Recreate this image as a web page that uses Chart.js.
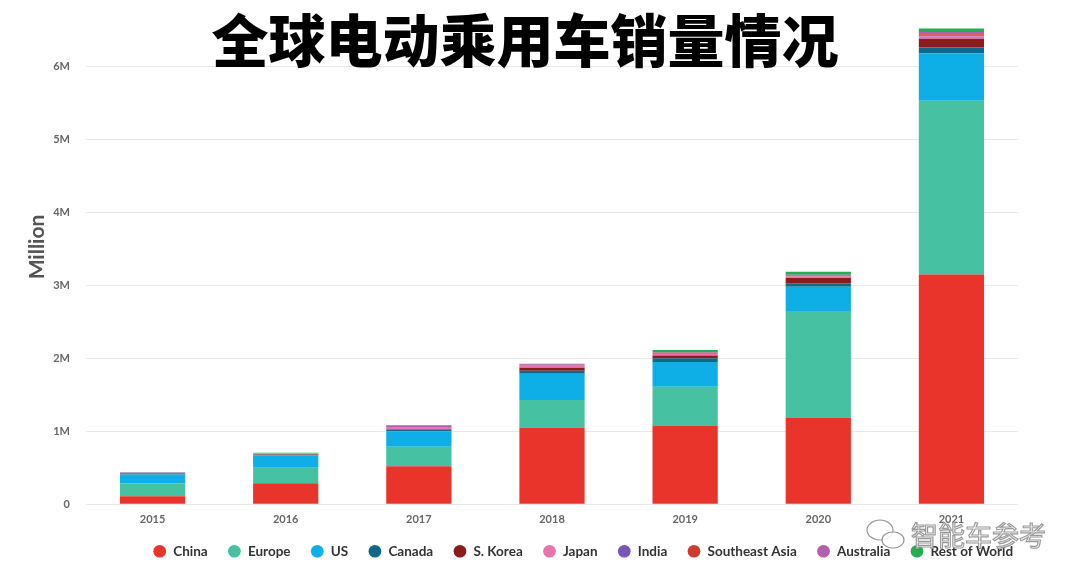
<!DOCTYPE html>
<html>
<head>
<meta charset="utf-8">
<script src="https://cdn.jsdelivr.net/npm/chart.js@4/dist/chart.umd.min.js"></script>
<style>
    html, body { margin: 0; padding: 0; background: #ffffff; }
    #wrap { width: 1080px; height: 583px; position: relative; }
</style>
</head>
<body>
<div id="wrap"><canvas id="salesChart"></canvas></div>
<script>
// ============================================
// DATA (million units)
// ============================================
const years = ['2015', '2016', '2017', '2018', '2019', '2020', '2021'];
const china = [0.11, 0.29, 0.52, 1.05, 1.08, 1.19, 3.15];
const europe = [0.18, 0.21, 0.27, 0.38, 0.53, 1.46, 2.38];
const us = [0.12, 0.17, 0.21, 0.36, 0.34, 0.33, 0.65];
const canada = [0.01, 0.01, 0.02, 0.04, 0.05, 0.05, 0.08];
const sKorea = [0.005, 0.005, 0.01, 0.04, 0.04, 0.07, 0.12];
const japan = [0.005, 0.01, 0.02, 0.03, 0.02, 0.02, 0.03];
const india = [0, 0, 0.005, 0.005, 0.005, 0.005, 0.01];
const southeastAsia = [0, 0, 0.005, 0.005, 0.01, 0.01, 0.02];
const australia = [0.005, 0.005, 0.02, 0.01, 0.01, 0.01, 0.03];
const restOfWorld = [0.005, 0.005, 0.005, 0.005, 0.03, 0.04, 0.05];
const yTicks = ['0', '1M', '2M', '3M', '4M', '5M', '6M'];

const TITLE = '全球电动乘用车销量情况';
const Y_TITLE = 'Million';
const WATERMARK = '智能车参考';

const series = [
    { label: 'China', data: china, color: '#e8342a' },
    { label: 'Europe', data: europe, color: '#46c2a2' },
    { label: 'US', data: us, color: '#0eaee6' },
    { label: 'Canada', data: canada, color: '#10698a' },
    { label: 'S. Korea', data: sKorea, color: '#8e1b1b' },
    { label: 'Japan', data: japan, color: '#ea72ad' },
    { label: 'India', data: india, color: '#7a55b1' },
    { label: 'Southeast Asia', data: southeastAsia, color: '#cf3b2e' },
    { label: 'Australia', data: australia, color: '#b25fae' },
    { label: 'Rest of World', data: restOfWorld, color: '#27ad51' }
];

// ============================================
// PLUGINS
// ============================================
const titlePlugin = {
    id: 'bigTitle',
    afterDraw(chart) {
        const ctx = chart.ctx;
        ctx.save();
        ctx.font = '900 57px "Noto Sans CJK SC"';
        ctx.fillStyle = '#000000';
        ctx.textAlign = 'center';
        ctx.textBaseline = 'middle';
        ctx.fillText(TITLE, 525, 40);

        // y axis title, sits a bit above the plot middle in the reference
        ctx.translate(37, 247);
        ctx.rotate(-Math.PI / 2);
        ctx.font = 'bold 21px Lato';
        ctx.fillStyle = '#555555';
        ctx.fillText(Y_TITLE, 0, 0);
        ctx.restore();
    }
};

// legend in the reference sits right of the plot centre and close under the axis
const legendShift = {
    id: 'legendShift',
    afterLayout(chart) {
        const lg = chart.legend;
        if (!lg) return;
        lg.left += 62;
        lg.right += 62;
        lg.top -= 11;
        lg.bottom -= 11;
    }
};

const watermarkPlugin = {
    id: 'watermark',
    afterDraw(chart) {
        const ctx = chart.ctx;
        ctx.save();
        ctx.font = '400 27px "Noto Sans CJK SC"';
        ctx.textAlign = 'left';
        ctx.textBaseline = 'middle';
        ctx.lineWidth = 1.2;
        ctx.strokeStyle = '#9a9a9a';
        ctx.fillStyle = 'rgba(255,255,255,0.85)';
        ctx.fillText(WATERMARK, 911, 536);
        ctx.strokeText(WATERMARK, 911, 536);
        // chat bubble icon
        ctx.beginPath();
        ctx.ellipse(880, 530, 13, 10, 0, 0, Math.PI * 2);
        ctx.stroke();
        ctx.beginPath();
        ctx.ellipse(893, 540, 11, 8, 0, 0, Math.PI * 2);
        ctx.fill();
        ctx.stroke();
        ctx.restore();
    }
};

// ============================================
// CHART
// ============================================
function createSalesChart() {
    const ctx = document.getElementById('salesChart');
    if (!ctx) return;

    new Chart(ctx, {
        type: 'bar',
        data: {
            labels: years,
            datasets: series.map(s => ({
                label: s.label,
                data: s.data,
                backgroundColor: s.color,
                borderWidth: 0,
                barPercentage: 0.49,
                categoryPercentage: 1
            }))
        },
        options: {
            responsive: true,
            maintainAspectRatio: false,
            animation: false,
            layout: {
                padding: { left: 24, right: 62, top: 20, bottom: 4 }
            },
            plugins: {
                title: { display: false },
                tooltip: { enabled: false },
                legend: {
                    position: 'bottom',
                    labels: {
                        usePointStyle: true,
                        pointStyle: 'circle',
                        boxWidth: 14,
                        boxHeight: 9,
                        padding: 20,
                        color: '#333333',
                        font: { family: 'Lato', size: 13.5, weight: 'bold' }
                    }
                }
            },
            scales: {
                x: {
                    stacked: true,
                    grid: { display: false, drawTicks: false },
                    border: { display: false },
                    ticks: {
                        color: '#666666',
                        padding: 9,
                        font: { family: 'Lato', size: 11, weight: 'bold' }
                    }
                },
                y: {
                    stacked: true,
                    min: 0,
                    max: 6.6,
                    afterBuildTicks(scale) {
                        scale.ticks = yTicks.map((t, i) => ({ value: i }));
                    },
                    afterFit(scale) {
                        scale.width = 62;
                    },
                    grid: { color: '#e8e8e8', lineWidth: 1, drawTicks: false },
                    border: { display: false },
                    ticks: {
                        color: '#666666',
                        padding: 16,
                        font: { family: 'Lato', size: 11, weight: 'bold' },
                        callback: (value) => yTicks[value] ?? ''
                    }
                }
            }
        },
        plugins: [titlePlugin, legendShift, watermarkPlugin]
    });
}

document.addEventListener('DOMContentLoaded', createSalesChart);
</script>
</body>
</html>
